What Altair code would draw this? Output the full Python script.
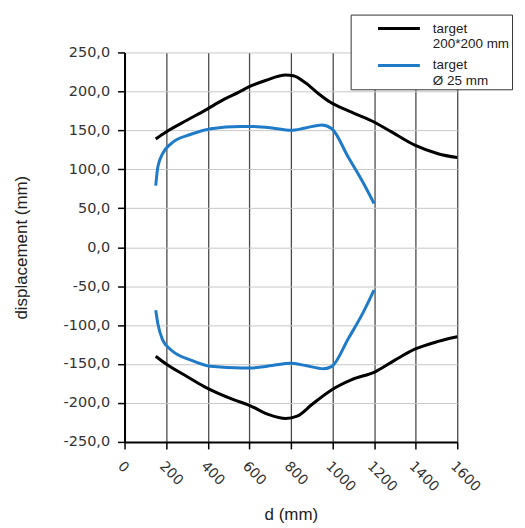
import altair as alt
import pandas as pd

# --- data ---
LAB_SQ = "target|200*200 mm"
LAB_RD = "target|Ø 25 mm"

sq_up_d = [150, 200, 300, 383, 480, 550, 600, 678, 775, 812, 870, 933, 990, 1077, 1190, 1284, 1396, 1508, 1600]
sq_up_v = [139, 148, 163, 175, 190, 199, 206, 214, 221, 220, 211, 197, 186, 175, 162, 148, 131, 120, 115]

sq_lo_d = [150, 200, 300, 383, 527, 600, 694, 775, 830, 901, 997, 1093, 1205, 1300, 1396, 1508, 1600]
sq_lo_v = [-140, -150, -166, -179, -196, -203, -215, -220, -217, -202, -183, -170, -160, -145, -131, -121, -115]

rd_up_d = [150, 160, 183, 224, 319, 415, 559, 606, 710, 798, 870, 949, 997, 1077, 1149, 1200]
rd_up_v = [79, 103, 120, 133, 145, 152, 155, 155, 153, 150, 153, 157, 152, 115, 82, 56]

rd_lo_d = [150, 160, 183, 224, 319, 415, 566, 606, 710, 798, 870, 957, 997, 1077, 1149, 1200]
rd_lo_v = [-81, -98, -119, -132, -145, -153, -155, -155, -152, -149, -152, -156, -153, -117, -83, -55]

x_ticks = list(range(0, 1601, 200))
y_ticks = list(range(-250, 251, 50))

rows = []
for lab, br, ds, vs in [
    (LAB_SQ, "sq_up", sq_up_d, sq_up_v),
    (LAB_SQ, "sq_lo", sq_lo_d, sq_lo_v),
    (LAB_RD, "rd_up", rd_up_d, rd_up_v),
    (LAB_RD, "rd_lo", rd_lo_d, rd_lo_v),
]:
    for d, v in zip(ds, vs):
        rows.append({"d": d, "disp": v, "series": lab, "branch": br})
df = pd.DataFrame(rows)

chart = (
    alt.Chart(df)
    .mark_line(interpolate="monotone", strokeWidth=3)
    .encode(
        x=alt.X(
            "d:Q",
            title="d (mm)",
            scale=alt.Scale(domain=[0, 1600], nice=False),
            axis=alt.Axis(
                values=x_ticks,
                format="d",
                labelAngle=45,
                labelAlign="left",
                labelBaseline="top",
                labelPadding=10,
                labelFont="DejaVu Sans",
                labelFontSize=14,
                labelColor="#333333",
                gridColor="#4a4a4a",
                gridWidth=1.3,
                titlePadding=13,
            ),
        ),
        y=alt.Y(
            "disp:Q",
            title="displacement (mm)",
            scale=alt.Scale(domain=[-250, 250], nice=False),
            axis=alt.Axis(
                values=y_ticks,
                labelExpr="replace(replace(format(datum.value, '.1f'), '.', ','), '−', '-')",
                labelFont="DejaVu Sans",
                labelFontSize=14.5,
                labelColor="#333333",
                labelPadding=8,
                gridColor="#c8c8c8",
                gridWidth=1,
                titlePadding=33,
            ),
        ),
        color=alt.Color(
            "series:N",
            scale=alt.Scale(domain=[LAB_SQ, LAB_RD], range=["#000000", "#1f7bc8"]),
            legend=alt.Legend(
                title=None,
                orient="none",
                legendX=227,
                legendY=-38,
                padding=2,
                symbolOffset=34.5,
                symbolType="M-2,0H2",
                symbolSize=441,
                symbolStrokeWidth=3,
                labelExpr="split(datum.label + '\u2002\u2002', '|')",
                labelFont="Liberation Sans",
                labelFontSize=13.5,
                labelColor="#222222",
                labelOffset=22,
                labelLimit=300,
                strokeColor="#333333",
                fillColor="#ffffff",
                rowPadding=3,
            ),
        ),
        detail="branch:N",
    )
    .properties(
        width=334,
        height=391,
        autosize=alt.AutoSizeParams(type="none"),
        padding={"left": 117, "top": 43.6, "right": 60, "bottom": 84},
    )
    .configure_view(stroke=None)
    .configure_axis(
        domainColor="#000000",
        domainWidth=2,
        tickColor="#000000",
        tickWidth=1.5,
        tickSize=7,
        titleFont="Liberation Sans",
        titleFontSize=17,
        titleFontWeight="normal",
        titleColor="#222222",
    )
)

chart.save("out.html", embed_options={"renderer": "svg", "actions": False})
